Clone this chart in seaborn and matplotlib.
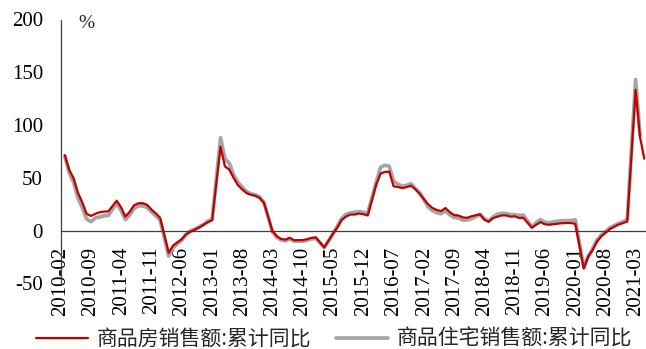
import numpy as np
import pandas as pd
import matplotlib
matplotlib.use("Agg")
import matplotlib.pyplot as plt
import seaborn as sns
from matplotlib.font_manager import FontProperties

# ---------------- data ----------------
start_month = "2010-02"
end_month = "2021-04"
series_red_name = "商品房销售额:累计同比"
series_gray_name = "商品住宅销售额:累计同比"

# cumulative YoY (%), Feb..Dec each year (no January release), 2021: Feb..Apr
red_values = [
    71.6, 57.4, 50.0, 36.0, 27.0, 16.0, 14.0, 16.0, 17.5, 18.1, 18.3,      # 2010
    28.4, 22.1, 13.4, 18.0, 24.1, 26.0, 26.0, 24.5, 20.0, 16.5, 12.1,      # 2011
    -20.9, -14.0, -11.0, -8.0, -3.5, -1.0, 1.0, 3.0, 5.5, 8.0, 10.0,       # 2012
    79.5, 60.9, 58.0, 50.0, 43.2, 39.0, 35.5, 34.0, 33.0, 31.0, 26.3,      # 2013
    -0.1, -5.2, -7.8, -8.5, -6.7, -9.0, -8.9, -8.9, -8.0, -6.8, -6.3,      # 2014
    -15.8, -9.3, -3.1, 3.0, 10.0, 13.4, 15.3, 15.3, 16.3, 15.6, 14.4,      # 2015
    43.6, 54.1, 55.7, 55.9, 42.1, 41.3, 40.4, 41.3, 42.6, 39.3, 34.8,      # 2016
    25.1, 21.5, 19.6, 18.6, 21.5, 17.5, 14.8, 14.4, 12.6, 12.2, 13.7,      # 2017
    15.5, 10.4, 8.5, 11.9, 13.2, 14.5, 14.5, 13.3, 13.6, 12.1, 12.2,       # 2018
    2.8, 5.6, 8.1, 6.1, 5.6, 6.2, 6.7, 7.1, 7.3, 7.3, 6.5,                 # 2019
    -35.9, -24.7, -18.6, -10.6, -5.4, -2.1, 1.6, 3.7, 5.8, 7.2, 8.7,       # 2020
    133.4, 88.5, 68.2,                                                     # 2021
]
gray_values = [
    70.5, 55.0, 46.0, 31.0, 22.0, 11.0, 8.5, 12.0, 13.0, 14.0, 14.4,       # 2010
    26.0, 19.0, 10.5, 15.0, 21.0, 23.5, 23.5, 22.0, 18.0, 14.0, 10.1,      # 2011
    -24.0, -16.0, -12.5, -9.0, -3.5, 0.0, 1.5, 3.5, 6.0, 9.0, 10.9,        # 2012
    88.0, 68.0, 64.0, 53.0, 46.0, 41.0, 37.0, 35.0, 34.0, 32.0, 26.6,      # 2013
    -1.0, -6.2, -8.8, -9.5, -7.7, -10.0, -9.9, -9.9, -9.0, -7.8, -7.3,     # 2014
    -16.0, -9.5, -2.5, 4.0, 11.5, 15.5, 17.0, 17.5, 18.0, 17.5, 16.6,      # 2015
    46.0, 60.0, 62.0, 61.0, 47.0, 44.0, 42.0, 43.0, 44.5, 40.0, 36.1,      # 2016
    22.5, 19.0, 17.0, 16.0, 19.0, 15.0, 12.5, 12.0, 10.0, 10.0, 11.3,      # 2017
    15.5, 11.5, 9.0, 13.0, 15.5, 16.5, 16.3, 15.3, 15.2, 14.5, 14.7,       # 2018
    3.5, 7.5, 10.5, 8.0, 7.5, 8.5, 9.0, 9.5, 9.6, 9.6, 10.3,               # 2019
    -34.7, -24.0, -17.4, -9.0, -4.3, -0.9, 2.8, 4.9, 6.9, 8.3, 10.8,       # 2020
    143.0, 90.0, np.nan,                                                   # 2021
]

y_ticks = [-50, 0, 50, 100, 150, 200]
x_tick_labels = ["2010-02", "2010-09", "2011-04", "2011-11", "2012-06", "2013-01",
                 "2013-08", "2014-03", "2014-10", "2015-05", "2015-12", "2016-07",
                 "2017-02", "2017-09", "2018-04", "2018-11", "2019-06", "2020-01",
                 "2020-08", "2021-03"]

# -------------- build frame --------------
periods = [p for p in pd.period_range(start_month, end_month, freq="M") if p.month != 1]
dates = [p.to_timestamp(how="end").normalize() for p in periods]
df = pd.DataFrame({"date": dates, "red": red_values, "gray": gray_values})

# -------------- figure --------------
sns.set_theme(style="white")
plt.rcParams["font.family"] = ["Liberation Serif", "DejaVu Serif"]

W, H = 646, 349
fig = plt.figure(figsize=(W / 100, H / 100), dpi=100)
left_px, right_px, top_px, bottom_px = 61, 645, 19.5, 283.5
ax = fig.add_axes([left_px / W, 1 - bottom_px / H, (right_px - left_px) / W, (bottom_px - top_px) / H])

sns.lineplot(data=df, x="date", y="gray", ax=ax, color="#A6A6A6", lw=2.7,
             label=series_gray_name, zorder=2)
sns.lineplot(data=df, x="date", y="red", ax=ax, color="#C00000", lw=1.6,
             label=series_red_name, zorder=3)

for s in ["top", "right"]:
    ax.spines[s].set_visible(False)
ax.spines["bottom"].set_position(("data", 0))
for s in ["left", "bottom"]:
    ax.spines[s].set_color("#404040")
    ax.spines[s].set_linewidth(0.9)
ax.tick_params(axis="x", direction="out", length=3.5, width=0.9, color="#404040",
               pad=8, labelcolor="black", labelrotation=90, labelsize=15)
ax.tick_params(axis="y", direction="in", length=3.5, width=0.9, color="#404040",
               pad=13, labelcolor="black", labelsize=15)

ax.set_ylim(-50, 200)
ax.set_yticks(y_ticks)
ax.set_yticklabels([str(v) for v in y_ticks])
ax.set_xlim(pd.Timestamp("2010-02-01"), pd.Timestamp("2021-05-05"))
tick_dates = [pd.Timestamp(s + "-01") for s in x_tick_labels]
ax.set_xticks(tick_dates)
ax.set_xticklabels(x_tick_labels, rotation=90, ha="center", va="top")
ax.set_xlabel("")
ax.set_ylabel("")

fig.text(86.5 / W, 1 - 24 / H, "%", ha="center", va="center", fontsize=14,
         family=["Liberation Serif", "DejaVu Serif"])

handles, labels = ax.get_legend_handles_labels()
if ax.get_legend() is not None:
    ax.get_legend().remove()
order = [labels.index(series_red_name), labels.index(series_gray_name)]
fig.legend([handles[i] for i in order], [labels[i] for i in order],
           loc="center", bbox_to_anchor=(0.517, 1 - 339 / H), ncol=2, frameon=False,
           prop=FontProperties(family=["Noto Sans CJK SC", "DejaVu Sans"], size=15),
           handlelength=2.5, handletextpad=0.4, columnspacing=1.2,
           borderpad=0, borderaxespad=0)

fig.savefig("out.png", dpi=100)
